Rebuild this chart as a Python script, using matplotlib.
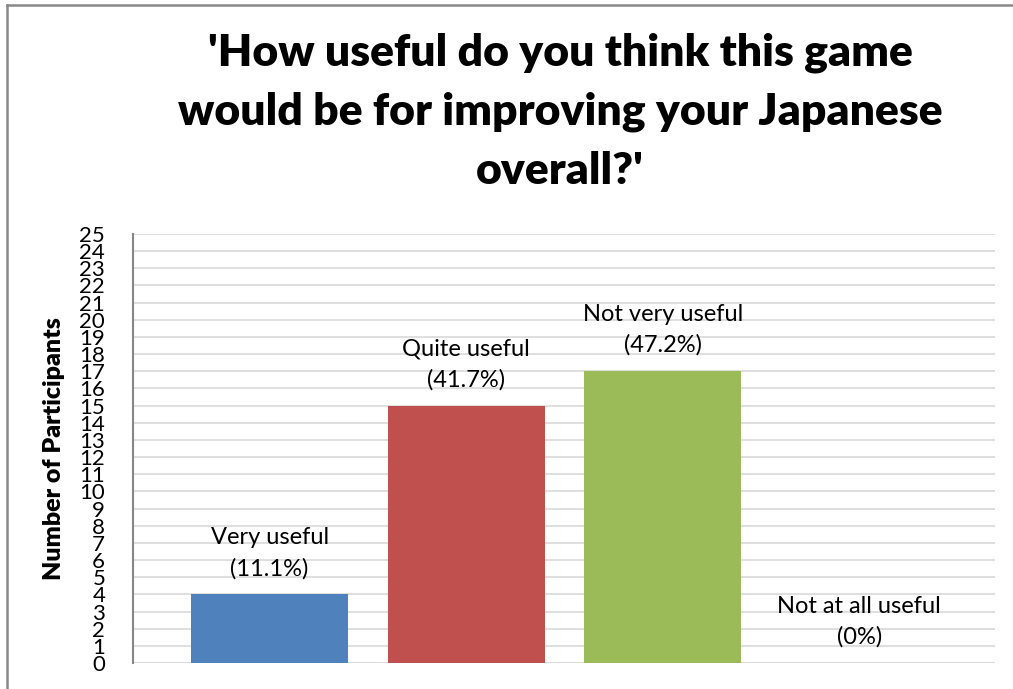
import matplotlib
matplotlib.use("Agg")
import matplotlib.pyplot as plt
from matplotlib.lines import Line2D

categories = ["Very useful", "Quite useful", "Not very useful", "Not at all useful"]
counts = [4, 15, 17, 0]
percents = ["11.1%", "41.7%", "47.2%", "0%"]
colors = ["#4F81BD", "#C0504D", "#9BBB59", "#8064A2"]
yticks = list(range(0, 26))

plt.rcParams["font.family"] = ["Lato", "DejaVu Sans"]

fig = plt.figure(figsize=(10.13, 6.89), dpi=100)
ax = fig.add_axes([0.1313, 0.0377, 0.8507, 0.6227])

x = list(range(len(categories)))
ax.bar(x, counts, width=0.8, color=colors, zorder=3)

for xi, name, n, pct in zip(x, categories, counts, percents):
    ax.annotate("%s\n(%s)" % (name, pct), xy=(xi, n), xytext=(0, 11),
                textcoords="offset points", ha="center", va="bottom",
                fontsize=17, linespacing=1.55)

ax.set_xlim(-0.695, 3.69)
ax.set_ylim(0, 25)
ax.set_yticks(yticks)
ax.set_yticklabels([str(t) for t in yticks], fontsize=16)
ax.tick_params(axis="y", length=0, pad=20)
ax.set_xticks([])
ax.grid(axis="y", color="#D9D9D9", linewidth=1.2, zorder=0)
for side in ["top", "right", "bottom"]:
    ax.spines[side].set_visible(False)
ax.spines["left"].set_color("#868686")
ax.spines["left"].set_linewidth(1.5)
ax.axhline(0, color="#D9D9D9", linewidth=1.2, zorder=1)

ax.set_ylabel("Number of Participants", fontsize=18, fontweight="heavy", labelpad=10)

fig.text(0.553, 0.953, "'How useful do you think this game\nwould be for improving your Japanese\noverall?'",
         ha="center", va="top", fontsize=32, fontweight="heavy", linespacing=1.57)

# outer chart frame: only its left and top edges fall inside the image
fx, fy = 7 / 1013, 1 - 5 / 689
fig.add_artist(Line2D([fx, fx], [0, fy], transform=fig.transFigure, color="#898989", linewidth=1.8))
fig.add_artist(Line2D([fx, 1], [fy, fy], transform=fig.transFigure, color="#898989", linewidth=1.8))

fig.savefig("out.png", dpi=100)
